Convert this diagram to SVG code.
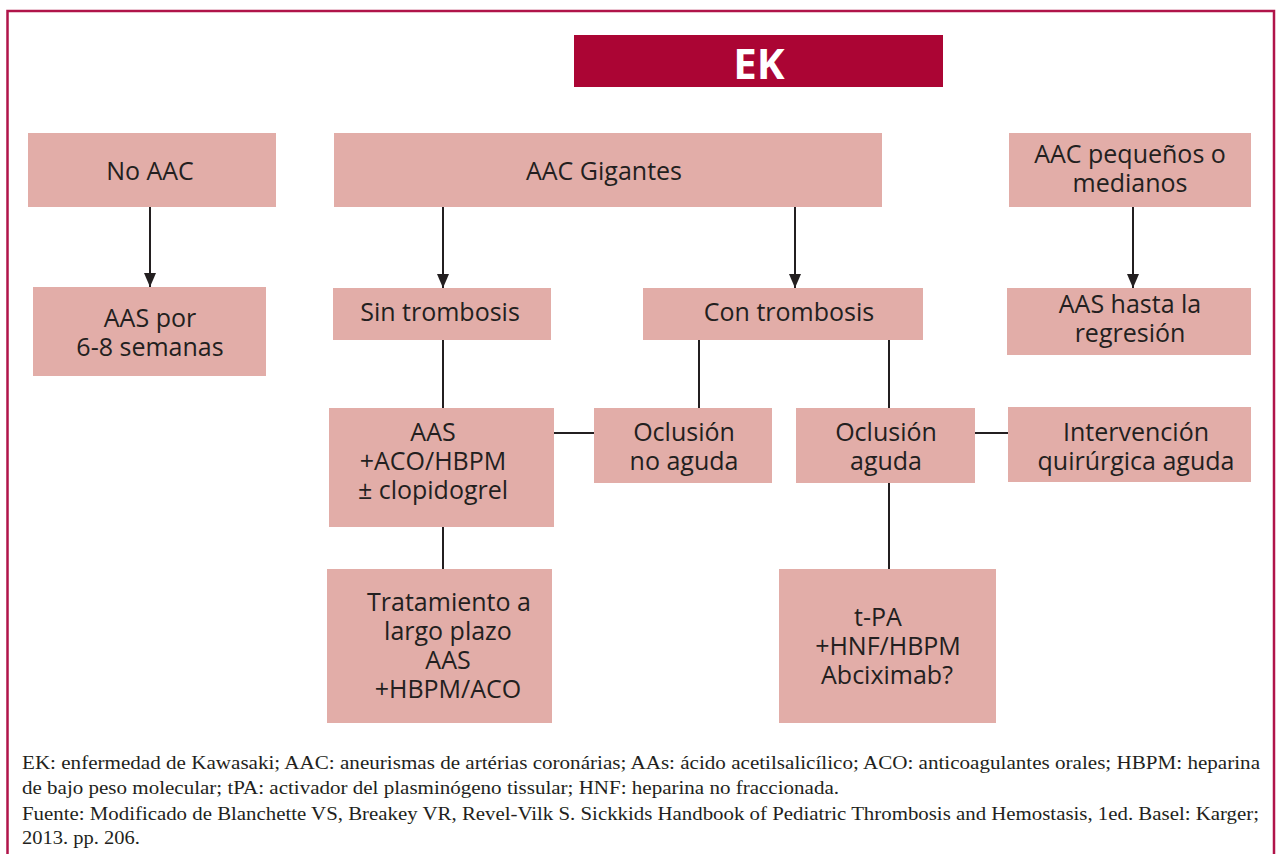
<svg xmlns="http://www.w3.org/2000/svg" width="1278" height="854" viewBox="0 0 1278 854">
<defs>
<style>
.box{fill:#E2ADA8;}
.t{font-family:"Open Sans","Noto Sans",sans-serif;font-size:25px;fill:#231F20;text-anchor:middle;}
.ln{stroke:#231F20;stroke-width:2;fill:none;}
.ft{font-family:"Liberation Serif","DejaVu Serif",serif;font-size:18.5px;fill:#231F20;}
</style>
<marker id="arr" markerWidth="12" markerHeight="14" refX="14" refY="6" orient="auto" markerUnits="userSpaceOnUse">
<path d="M0,0 L14,6 L0,12 Z" fill="#231F20"/>
</marker>
</defs>
<rect width="1278" height="854" fill="#ffffff"/>
<path d="M7.5,870 L7.5,11 L1274,11 L1274,870" fill="none" stroke="#B0144A" stroke-width="2.5"/>

<g id="ek">
<rect x="574" y="35" width="369" height="52" fill="#AB0534"/>
<text x="759" y="79" font-family="'Open Sans','Noto Sans',sans-serif" font-size="42" font-weight="bold" fill="#ffffff" text-anchor="middle">EK</text>
</g>

<g id="connectors">
<line class="ln" x1="150" y1="207" x2="150" y2="287" marker-end="url(#arr)"/>
<line class="ln" x1="443" y1="207" x2="443" y2="288" marker-end="url(#arr)"/>
<line class="ln" x1="795" y1="207" x2="795" y2="288" marker-end="url(#arr)"/>
<line class="ln" x1="1133" y1="207" x2="1133" y2="288" marker-end="url(#arr)"/>
<line class="ln" x1="443" y1="340" x2="443" y2="408"/>
<line class="ln" x1="699" y1="340" x2="699" y2="408"/>
<line class="ln" x1="889" y1="340" x2="889" y2="408"/>
<line class="ln" x1="554" y1="433" x2="594" y2="433"/>
<line class="ln" x1="975" y1="433" x2="1008" y2="433"/>
<line class="ln" x1="443" y1="527" x2="443" y2="569"/>
<line class="ln" x1="889" y1="483" x2="889" y2="569"/>
</g>

<g id="no-aac"><rect class="box" x="28" y="133" width="248" height="74"/><text class="t" x="150" y="180">No AAC</text></g>
<g id="aac-gigantes"><rect class="box" x="334" y="133" width="548" height="74"/><text class="t" x="604" y="180">AAC Gigantes</text></g>
<g id="aac-pequenos"><rect class="box" x="1009" y="133" width="242" height="74"/><text class="t" x="1130" y="163">AAC pequeños o</text><text class="t" x="1130" y="192">medianos</text></g>
<g id="aas-por"><rect class="box" x="33" y="287" width="233" height="89"/><text class="t" x="150" y="327">AAS por</text><text class="t" x="150" y="356">6-8 semanas</text></g>
<g id="sin-trombosis"><rect class="box" x="333" y="288" width="218" height="52"/><text class="t" x="440" y="321">Sin trombosis</text></g>
<g id="con-trombosis"><rect class="box" x="643" y="288" width="280" height="52"/><text class="t" x="789" y="321">Con trombosis</text></g>
<g id="aas-hasta"><rect class="box" x="1007" y="288" width="244" height="67"/><text class="t" x="1130" y="313">AAS hasta la</text><text class="t" x="1130" y="342">regresión</text></g>
<g id="aas-aco"><rect class="box" x="329" y="408" width="225" height="119"/><text class="t" x="433" y="441">AAS</text><text class="t" x="433" y="470">+ACO/HBPM</text><text class="t" x="433" y="499">± clopidogrel</text></g>
<g id="oclusion-no-aguda"><rect class="box" x="594" y="408" width="178" height="75"/><text class="t" x="684" y="441">Oclusión</text><text class="t" x="684" y="470">no aguda</text></g>
<g id="oclusion-aguda"><rect class="box" x="796" y="408" width="179" height="75"/><text class="t" x="886" y="441">Oclusión</text><text class="t" x="886" y="470">aguda</text></g>
<g id="intervencion"><rect class="box" x="1008" y="407" width="243" height="75"/><text class="t" x="1136" y="441">Intervención</text><text class="t" x="1136" y="470">quirúrgica aguda</text></g>
<g id="tratamiento"><rect class="box" x="327" y="569" width="225" height="154"/><text class="t" x="449" y="611">Tratamiento a</text><text class="t" x="448" y="640">largo plazo</text><text class="t" x="448" y="669">AAS</text><text class="t" x="448" y="698">+HBPM/ACO</text></g>
<g id="tpa"><rect class="box" x="779" y="569" width="217" height="154"/><text class="t" x="878" y="626">t-PA</text><text class="t" x="888" y="655">+HNF/HBPM</text><text class="t" x="887" y="684">Abciximab?</text></g>

<g id="footer">
<text class="ft" x="22" y="769" textLength="1238" lengthAdjust="spacingAndGlyphs">EK: enfermedad de Kawasaki; AAC: aneurismas de artérias coronárias; AAs: ácido acetilsalicílico; ACO: anticoagulantes orales; HBPM: heparina</text>
<text class="ft" x="22" y="794" textLength="817" lengthAdjust="spacingAndGlyphs">de bajo peso molecular; tPA: activador del plasminógeno tissular; HNF: heparina no fraccionada.</text>
<text class="ft" x="22" y="820" textLength="1237" lengthAdjust="spacingAndGlyphs">Fuente: Modificado de Blanchette VS, Breakey VR, Revel-Vilk S. Sickkids Handbook of Pediatric Thrombosis and Hemostasis, 1ed. Basel: Karger;</text>
<text class="ft" x="22" y="844" textLength="118" lengthAdjust="spacingAndGlyphs">2013. pp. 206.</text>
</g>
</svg>
